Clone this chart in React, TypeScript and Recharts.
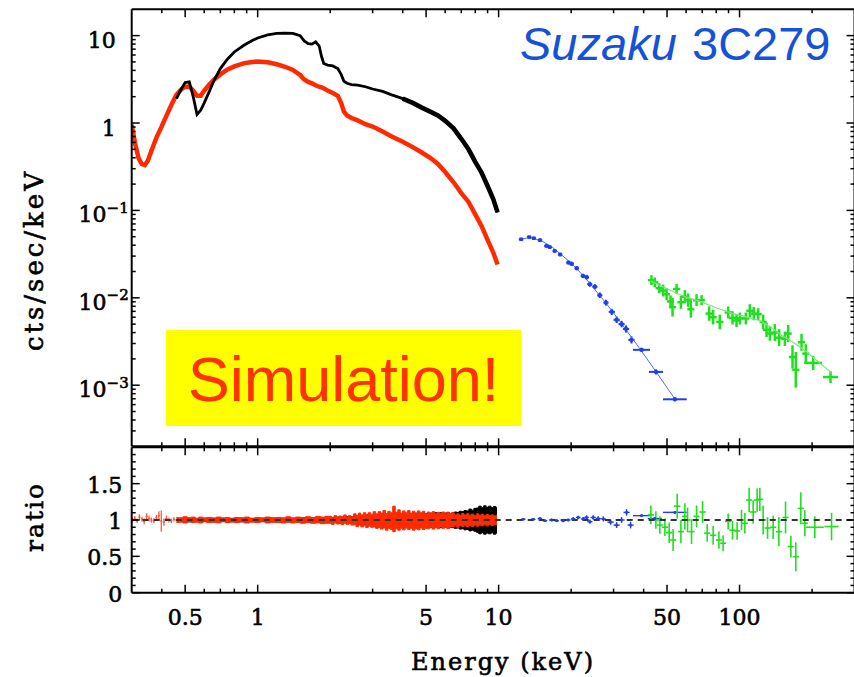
import React from 'react';
import {
  ComposedChart,
  Line,
  Scatter,
  Area,
  XAxis,
  YAxis,
  ErrorBar,
  ReferenceLine,
} from 'recharts';

// ---------------------------------------------------------------------------
// XIS spectra (counts/s/keV) on a common energy grid (keV)
// ---------------------------------------------------------------------------
const xisEnergy = [
  0.30, 0.31, 0.32, 0.33, 0.34, 0.35, 0.36, 0.38, 0.40, 0.42, 0.44, 0.46, 0.48,
  0.50, 0.52, 0.54, 0.56, 0.58, 0.60, 0.63, 0.66, 0.70, 0.75, 0.80, 0.88, 0.95,
  1.0, 1.1, 1.2, 1.3, 1.4, 1.5, 1.56, 1.62, 1.68, 1.74, 1.8, 1.84, 1.88, 1.95,
  2.05, 2.15, 2.22, 2.28, 2.35, 2.45, 2.6, 2.8, 3.0, 3.3, 3.6, 4.0, 4.4, 4.8,
  5.2, 5.6, 6.0, 6.5, 7.0, 7.5, 8.0, 8.5, 9.0, 9.5, 9.9,
];
// front-illuminated XIS (black)
const xisFI = [
  null, null, null, null, null, null, null, null, null, null, null, 1.9, 2.4,
  2.9, 2.95, 2.0, 1.25, 1.4, 1.7, 2.3, 3.1, 4.2, 5.4, 6.5, 7.8, 8.8,
  9.4, 10.2, 10.6, 10.7, 10.6, 10.0, 8.7, 8.1, 8.0, 8.5, 7.6, 5.8, 4.8, 4.6,
  4.5, 4.2, 3.6, 3.0, 2.85, 2.75, 2.72, 2.6, 2.45, 2.3, 2.1, 1.9, 1.7, 1.5,
  1.35, 1.22, 1.06, 0.87, 0.66, 0.5, 0.36, 0.27, 0.19, 0.135, 0.095,
];
// back-illuminated XIS (red)
const xisBI = [
  0.96, 0.58, 0.40, 0.34, 0.33, 0.37, 0.46, 0.68, 0.92, 1.25, 1.65, 2.1, 2.4,
  2.6, 2.62, 2.35, 2.05, 2.05, 2.35, 2.75, 3.15, 3.6, 4.1, 4.45, 4.85, 5.0,
  5.05, 4.95, 4.7, 4.4, 4.05, 3.55, 3.15, 2.95, 2.85, 2.7, 2.6, 2.55, 2.5, 2.35,
  2.2, 2.05, 1.7, 1.35, 1.22, 1.14, 1.07, 0.97, 0.91, 0.80, 0.70, 0.61, 0.53, 0.46,
  0.40, 0.34, 0.275, 0.21, 0.158, 0.125, 0.09, 0.066, 0.046, 0.033, 0.024,
];

// ---------------------------------------------------------------------------
// HXD-PIN (blue)
// ---------------------------------------------------------------------------
const pinEnergy = [
  12.4, 13.4, 14.0, 14.85, 15.8, 16.3, 17.1, 18.0, 19.5, 20.1, 21.1, 22.4, 23.2,
  23.9, 25.1, 26.3, 27.9, 29.5, 30.9, 32.4, 33.8, 35.6, 39.2, 45.0, 53.9,
];
const pinRate = [
  0.0467, 0.0495, 0.048, 0.0457, 0.0392, 0.038, 0.0344, 0.0313, 0.0253, 0.0245,
  0.0218, 0.0178, 0.0172, 0.0143, 0.0134, 0.0107, 0.0088, 0.0069, 0.0056, 0.0050,
  0.0044, 0.0033, 0.00254, 0.00142, 0.00069,
];
// fractional half-widths of the energy bins and of the rate errors
const pinBinHalf = [
  0.022, 0.022, 0.022, 0.022, 0.022, 0.022, 0.022, 0.022, 0.022, 0.022, 0.022,
  0.022, 0.022, 0.025, 0.025, 0.025, 0.025, 0.03, 0.03, 0.03, 0.03, 0.03,
  0.085, 0.07, 0.12,
];
const pinRateErr = [
  0.04, 0.04, 0.04, 0.045, 0.045, 0.05, 0.05, 0.05, 0.055, 0.06, 0.06, 0.06,
  0.065, 0.07, 0.07, 0.075, 0.08, 0.085, 0.09, 0.09, 0.1, 0.1, 0.06, 0.07, 0.06,
];
const pinModelEnergy = [12.4, 13.5, 15, 16.5, 18, 20, 22, 24, 26, 28, 30, 32, 34, 36, 39, 45, 54];
const pinModelRate = [
  0.047, 0.049, 0.045, 0.039, 0.032, 0.025, 0.019, 0.0145, 0.011, 0.0086, 0.0067,
  0.0053, 0.0042, 0.0034, 0.0025, 0.00143, 0.00069,
];

// ---------------------------------------------------------------------------
// HXD-GSO (green)
// ---------------------------------------------------------------------------
const gsoEnergy = [
  43.1, 44.5, 46.4, 48.2, 49.8, 51.7, 52.7, 54.8, 57.1, 59.3, 61.2, 62.8, 66.3,
  69.6, 74.8, 77.7, 82.8, 89.7, 93.5, 97.2, 100.3, 106.2, 110.3, 114.6, 119.5,
  125.3, 129.4, 133.6, 140.1, 146.0, 154.2, 159.1, 165.9, 171.2, 180.8, 188.4,
  202.1, 238.6,
];
const gsoRate = [
  0.0159, 0.0150, 0.0129, 0.0121, 0.0110, 0.0091, 0.0078, 0.0126, 0.0089, 0.0103,
  0.0094, 0.0074, 0.0094, 0.0094, 0.0066, 0.0060, 0.0053, 0.0068, 0.0059, 0.0055,
  0.0058, 0.0058, 0.0071, 0.0066, 0.0065, 0.0053, 0.0043, 0.0039, 0.0040, 0.0035,
  0.0034, 0.0039, 0.0021, 0.0015, 0.0031, 0.0023, 0.0018, 0.00124,
];
const gsoBinHalf = [
  0.035, 0.035, 0.035, 0.035, 0.035, 0.035, 0.035, 0.035, 0.035, 0.035, 0.035,
  0.035, 0.035, 0.035, 0.035, 0.035, 0.035, 0.035, 0.035, 0.035, 0.035, 0.035,
  0.035, 0.035, 0.035, 0.035, 0.035, 0.035, 0.035, 0.035, 0.035, 0.035, 0.035,
  0.035, 0.035, 0.035, 0.09, 0.075,
];
const gsoRateErr = [
  0.14, 0.14, 0.14, 0.17, 0.17, 0.17, 0.28, 0.14, 0.19, 0.19, 0.19, 0.25, 0.17,
  0.14, 0.21, 0.21, 0.21, 0.17, 0.19, 0.19, 0.17, 0.17, 0.19, 0.19, 0.17, 0.21,
  0.21, 0.21, 0.25, 0.25, 0.21, 0.25, 0.36, 0.6, 0.25, 0.28, 0.21, 0.17,
];
const gsoModelEnergy = [43, 50, 56, 62, 68.5, 80, 94, 108, 121, 135, 150, 170, 190, 215, 240];
const gsoModelRate = [
  0.0155, 0.0127, 0.0110, 0.0099, 0.0091, 0.0077, 0.0066, 0.0060, 0.0055, 0.0046,
  0.0037, 0.0030, 0.0024, 0.0018, 0.0014,
];

// ---------------------------------------------------------------------------
// Data / model ratios
// ---------------------------------------------------------------------------
// sparse low-energy XIS-BI bins
const biLowEnergy = [
  0.302, 0.309, 0.316, 0.323, 0.331, 0.338, 0.346, 0.354, 0.362, 0.371, 0.380,
  0.389, 0.398, 0.408, 0.418, 0.428, 0.438, 0.449,
];
const biLowRatio = [
  1.0, 1.02, 0.99, 1.04, 1.01, 0.98, 1.05, 1.02, 1.0, 0.99, 1.03, 1.06, 0.985,
  0.97, 1.02, 1.0, 0.99, 1.01,
];
const biLowErr = [
  0.03, 0.035, 0.03, 0.04, 0.035, 0.04, 0.045, 0.04, 0.035, 0.035, 0.04, 0.06,
  0.145, 0.05, 0.04, 0.035, 0.03, 0.03,
];
const biLowBinHalf = [
  0.011, 0.011, 0.011, 0.011, 0.011, 0.011, 0.011, 0.011, 0.011, 0.011, 0.011,
  0.011, 0.011, 0.011, 0.011, 0.011, 0.011, 0.011,
];

// dense XIS bins: envelope of the error bars (low / high ratio)
const xisRatioEnergy = [
  0.46, 0.48, 0.50, 0.52, 0.54, 0.56, 0.58, 0.60, 0.63, 0.66,
  0.69, 0.72, 0.75, 0.78, 0.82, 0.86, 0.90, 0.95, 1.00, 1.05,
  1.10, 1.16, 1.22, 1.28, 1.34, 1.40, 1.47, 1.54, 1.62, 1.70,
  1.78, 1.86, 1.95,
  2.00, 2.05, 2.10, 2.15, 2.20, 2.25, 2.30, 2.36, 2.41, 2.47,
  2.53, 2.59, 2.65, 2.71, 2.78, 2.84, 2.91, 2.98, 3.05, 3.12,
  3.20, 3.27, 3.35, 3.43, 3.51, 3.59, 3.68, 3.77, 3.86, 3.95,
  4.04, 4.14, 4.24, 4.34, 4.44, 4.55, 4.66, 4.77, 4.88, 5.00,
  5.12, 5.24, 5.36, 5.49, 5.62, 5.75, 5.89, 6.03, 6.17, 6.32,
  6.47, 6.62, 6.78, 6.94, 7.10, 7.27, 7.44, 7.62, 7.80, 7.99,
  8.18, 8.37, 8.57, 8.77, 8.98, 9.19, 9.41, 9.63, 9.85,
];
const biRatioLo = [
  0.965, 0.97, 0.96, 0.975, 0.965, 0.97, 0.96, 0.975, 0.965, 0.97,
  0.962, 0.975, 0.965, 0.97, 0.965, 0.975, 0.96, 0.97, 0.965, 0.975,
  0.96, 0.97, 0.965, 0.96, 0.97, 0.96, 0.965, 0.955, 0.965, 0.955,
  0.96, 0.95, 0.955,
  0.955, 0.94, 0.96, 0.945, 0.95, 0.935, 0.955, 0.94, 0.95, 0.93,
  0.935, 0.91, 0.93, 0.905, 0.92, 0.895, 0.915, 0.90, 0.905, 0.885,
  0.895, 0.875, 0.89, 0.86, 0.885, 0.87, 0.84, 0.88, 0.86, 0.885,
  0.865, 0.89, 0.87, 0.885, 0.86, 0.88, 0.865, 0.89, 0.87, 0.885,
  0.88, 0.90, 0.875, 0.895, 0.88, 0.905, 0.885, 0.90, 0.88, 0.905,
  0.905, 0.92, 0.90, 0.925, 0.91, 0.92, 0.905, 0.925, 0.91, 0.93,
  0.915, 0.93, 0.92, 0.935, 0.92, 0.935, 0.925, 0.94, 0.935,
];
const biRatioHi = [
  1.035, 1.03, 1.045, 1.03, 1.04, 1.025, 1.04, 1.03, 1.035, 1.025,
  1.04, 1.03, 1.035, 1.025, 1.035, 1.03, 1.04, 1.025, 1.035, 1.03,
  1.04, 1.03, 1.035, 1.03, 1.045, 1.03, 1.04, 1.035, 1.045, 1.035,
  1.05, 1.04, 1.05,
  1.05, 1.035, 1.06, 1.04, 1.055, 1.045, 1.07, 1.04, 1.06, 1.05,
  1.085, 1.065, 1.095, 1.07, 1.10, 1.075, 1.10, 1.08, 1.115, 1.085,
  1.115, 1.095, 1.13, 1.09, 1.12, 1.10, 1.19, 1.105, 1.14, 1.095,
  1.125, 1.10, 1.13, 1.095, 1.12, 1.09, 1.125, 1.10, 1.12, 1.085,
  1.11, 1.09, 1.115, 1.085, 1.105, 1.09, 1.11, 1.085, 1.105, 1.09,
  1.10, 1.07, 1.085, 1.065, 1.09, 1.07, 1.085, 1.065, 1.08, 1.06,
  1.085, 1.065, 1.08, 1.06, 1.075, 1.06, 1.07, 1.055, 1.065,
];
const fiRatioLo = [
  null, null, 0.98, 0.975, 0.98, 0.98, 0.975, 0.98, 0.98, 0.975,
  0.98, 0.98, 0.975, 0.98, 0.98, 0.975, 0.98, 0.98, 0.975, 0.98,
  0.98, 0.975, 0.98, 0.98, 0.975, 0.98, 0.98, 0.975, 0.97, 0.975,
  0.97, 0.97, 0.965,
  0.97, 0.965, 0.97, 0.96, 0.965, 0.96, 0.965, 0.955, 0.96, 0.955,
  0.955, 0.95, 0.955, 0.945, 0.95, 0.94, 0.945, 0.94, 0.945, 0.935,
  0.94, 0.93, 0.935, 0.925, 0.93, 0.92, 0.93, 0.92, 0.925, 0.915,
  0.92, 0.91, 0.92, 0.905, 0.915, 0.90, 0.91, 0.90, 0.905, 0.90,
  0.91, 0.90, 0.915, 0.90, 0.905, 0.895, 0.905, 0.90, 0.89, 0.90,
  0.895, 0.885, 0.89, 0.875, 0.88, 0.865, 0.87, 0.85, 0.86, 0.845,
  0.83, 0.81, 0.825, 0.805, 0.82, 0.81, 0.825, 0.805, 0.82,
];
const fiRatioHi = [
  null, null, 1.02, 1.025, 1.02, 1.02, 1.025, 1.02, 1.02, 1.025,
  1.02, 1.02, 1.025, 1.02, 1.02, 1.025, 1.02, 1.02, 1.025, 1.02,
  1.02, 1.025, 1.02, 1.02, 1.025, 1.02, 1.02, 1.025, 1.03, 1.025,
  1.03, 1.03, 1.035,
  1.03, 1.035, 1.03, 1.04, 1.035, 1.04, 1.035, 1.045, 1.04, 1.045,
  1.045, 1.05, 1.045, 1.055, 1.05, 1.06, 1.055, 1.06, 1.055, 1.065,
  1.06, 1.07, 1.065, 1.075, 1.07, 1.08, 1.07, 1.08, 1.075, 1.085,
  1.08, 1.09, 1.08, 1.09, 1.085, 1.095, 1.09, 1.09, 1.095, 1.09,
  1.09, 1.095, 1.085, 1.10, 1.09, 1.10, 1.09, 1.095, 1.105, 1.09,
  1.10, 1.11, 1.105, 1.12, 1.115, 1.13, 1.125, 1.15, 1.135, 1.16,
  1.165, 1.19, 1.17, 1.195, 1.175, 1.19, 1.17, 1.185, 1.17,
];

const pinRatioEnergy = [
  12.65, 13.92, 14.84, 15.56, 16.6, 17.41, 18.54, 19.45, 20.4, 21.4, 22.44, 23.18,
  23.92, 24.69, 25.9, 27.2, 29.16, 30.88, 32.38, 33.97, 35.3, 39.2, 44.5, 53.9,
];
const pinRatio = [
  1.01, 1.01, 1.02, 0.99, 1.0, 0.99, 0.99, 1.0, 1.015, 1.035, 1.015, 1.035, 0.977,
  1.035, 1.02, 1.015, 0.97, 0.93, 1.0, 1.105, 0.93, 1.06, 1.02, 1.105,
];
const pinRatioErr = [
  0.015, 0.015, 0.015, 0.015, 0.02, 0.02, 0.02, 0.02, 0.025, 0.025, 0.025, 0.03,
  0.03, 0.03, 0.03, 0.035, 0.035, 0.04, 0.04, 0.045, 0.045, 0.02, 0.02, 0.02,
];
const pinRatioBinHalf = [
  0.022, 0.022, 0.022, 0.022, 0.022, 0.022, 0.022, 0.022, 0.022, 0.022, 0.022,
  0.022, 0.025, 0.025, 0.025, 0.025, 0.03, 0.03, 0.03, 0.03, 0.03, 0.085, 0.07, 0.12,
];

const gsoRatioEnergy = [
  42.85, 44.95, 46.7, 49.0, 51.05, 53.0, 55.1, 57.1, 59.3, 60.85, 63.2, 66.3, 70.2,
  73.4, 77.7, 82.1, 85.5, 89.7, 93.5, 97.7, 101.9, 105.2, 109.6, 113.9, 118.3,
  121.4, 125.3, 130.7, 137.9, 145.6, 155.2, 163.3, 171.2, 179.6, 186.6, 205.3, 240.9,
];
const gsoRatio = [
  1.07, 1.0, 0.93, 0.9, 0.825, 0.725, 1.19, 0.84, 1.05, 1.0, 0.84, 1.05, 1.11,
  0.82, 0.79, 0.725, 0.68, 0.98, 0.86, 0.85, 1.0, 0.955, 1.275, 1.11, 1.275,
  1.285, 1.0, 0.89, 0.9, 0.84, 1.035, 0.635, 0.495, 1.16, 0.955, 0.9, 0.91,
];
const gsoRatioErr = [
  0.13, 0.12, 0.12, 0.12, 0.14, 0.15, 0.17, 0.16, 0.18, 0.17, 0.17, 0.15, 0.15,
  0.12, 0.13, 0.12, 0.11, 0.11, 0.13, 0.12, 0.14, 0.14, 0.17, 0.16, 0.16, 0.16,
  0.2, 0.15, 0.16, 0.2, 0.22, 0.15, 0.2, 0.22, 0.18, 0.15, 0.19,
];
const gsoRatioBinHalf = [
  0.03, 0.03, 0.03, 0.03, 0.03, 0.03, 0.03, 0.03, 0.03, 0.03, 0.03, 0.03, 0.03,
  0.03, 0.03, 0.03, 0.03, 0.03, 0.03, 0.03, 0.03, 0.03, 0.03, 0.03, 0.03, 0.03,
  0.03, 0.03, 0.03, 0.03, 0.03, 0.03, 0.03, 0.03, 0.03, 0.09, 0.07,
];

// ---------------------------------------------------------------------------
// Axis ticks
// ---------------------------------------------------------------------------
const X_TICKS = [0.4, 0.5, 0.6, 0.7, 0.8, 0.9, 1, 2, 3, 4, 5, 6, 7, 8, 9, 10, 20, 30, 40, 50, 60, 70, 80, 90, 100, 200];
const X_LABELED = [0.5, 1, 5, 10, 50, 100];
const Y_SPEC_TICKS = [
  3e-4, 4e-4, 5e-4, 6e-4, 7e-4, 8e-4, 9e-4,
  1e-3, 2e-3, 3e-3, 4e-3, 5e-3, 6e-3, 7e-3, 8e-3, 9e-3,
  1e-2, 2e-2, 3e-2, 4e-2, 5e-2, 6e-2, 7e-2, 8e-2, 9e-2,
  0.1, 0.2, 0.3, 0.4, 0.5, 0.6, 0.7, 0.8, 0.9,
  1, 2, 3, 4, 5, 6, 7, 8, 9, 10,
];
const Y_RATIO_TICKS = [0, 0.1, 0.2, 0.3, 0.4, 0.5, 0.6, 0.7, 0.8, 0.9, 1, 1.1, 1.2, 1.3, 1.4, 1.5, 1.6, 1.7, 1.8, 1.9];

// ---------------------------------------------------------------------------
// Rows for the chart library
// ---------------------------------------------------------------------------
const binErr = (v: number, f: number) => [(v * f) / (1 + f), v * f];

// the FI curve is drawn heavier above 4 keV, where its error bars widen
const xisRows = xisEnergy.map((e, i) => ({
  e,
  fi: xisFI[i],
  fiTail: e >= 4.0 ? xisFI[i] : null,
  bi: xisBI[i],
}));
const pinRows = pinEnergy.map((e, i) => ({
  e,
  v: pinRate[i],
  ex: binErr(e, pinBinHalf[i]),
  ey: binErr(pinRate[i], pinRateErr[i]),
}));
const pinModelRows = pinModelEnergy.map((e, i) => ({ e, v: pinModelRate[i] }));
const gsoRows = gsoEnergy.map((e, i) => ({
  e,
  v: gsoRate[i],
  ex: binErr(e, gsoBinHalf[i]),
  ey: binErr(gsoRate[i], gsoRateErr[i]),
}));
const gsoModelRows = gsoModelEnergy.map((e, i) => ({ e, v: gsoModelRate[i] }));

const xisRatioRows = xisRatioEnergy.map((e, i) => ({
  e,
  bi: [biRatioLo[i], biRatioHi[i]],
  fi: fiRatioLo[i] == null ? null : [fiRatioLo[i], fiRatioHi[i]],
}));
const biLowRows = biLowEnergy.map((e, i) => ({
  e,
  v: biLowRatio[i],
  ex: binErr(e, biLowBinHalf[i]),
  ey: biLowErr[i],
}));
const pinRatioRows = pinRatioEnergy.map((e, i) => ({
  e,
  v: pinRatio[i],
  ex: binErr(e, pinRatioBinHalf[i]),
  ey: pinRatioErr[i],
}));
const gsoRatioRows = gsoRatioEnergy.map((e, i) => ({
  e,
  v: gsoRatio[i],
  ex: binErr(e, gsoRatioBinHalf[i]),
  ey: gsoRatioErr[i],
}));

// ---------------------------------------------------------------------------
// Layout & style
// ---------------------------------------------------------------------------
const SERIF = '"DejaVu Serif", "Liberation Serif", serif';
const SANS = '"Liberation Sans", Arial, Helvetica, sans-serif';
const CHART_W = 856;
const LEFT_AXIS_W = 120;
const PLOT_LEFT = 131.7;
const PLOT_RIGHT = 854.5;
const SPEC_TOP = 9.3;
const PANEL_SPLIT = 447.3;
const RATIO_BOTTOM = 592.7;
const PAGE_H = 677;

const RED = '#ff2a00';
const BLUE = '#1f3df2';
const GREEN = '#1ee01e';
const AXIS_STROKE = { stroke: '#000', strokeWidth: 2 };
// plotting-package lettering: regular serif with a slight outline for weight
const serifText = {
  fontFamily: SERIF,
  fill: '#000',
  stroke: '#000',
  strokeWidth: 0.6,
};
const tickText = { ...serifText, fontSize: 22 };

const near = (a: number, b: number) => Math.abs(a - b) < 1e-9 * Math.max(1, Math.abs(b));
const isDecade = (v: number) => {
  const l = Math.log10(v);
  return Math.abs(l - Math.round(l)) < 1e-6;
};

// x ticks point into the panel; dir = -1 for a bottom axis, +1 for a top axis
const makeXTick = (dir: number, labels: boolean) => (p: any) => {
  const v = p.payload.value;
  const major = X_LABELED.some((m) => near(m, v));
  const len = major ? 8 : 4;
  return (
    <g>
      <line x1={p.x} x2={p.x} y1={p.y} y2={p.y + dir * len} stroke="#000" strokeWidth={1.5} />
      {labels && major ? (
        <text x={p.x} y={p.y + 32} textAnchor="middle" {...tickText}>
          {String(v)}
        </text>
      ) : null}
    </g>
  );
};

const makeSpecYTick = (dir: number, labels: boolean) => (p: any) => {
  const v = p.payload.value;
  const major = isDecade(v);
  const len = major ? 8 : 4;
  let label = null;
  if (labels && major) {
    const exp = Math.round(Math.log10(v));
    if (exp >= 0) {
      label = (
        <text x={p.x - 16} y={p.y + 12.5} textAnchor="end" {...tickText}>
          {exp === 0 ? '1' : '10'}
        </text>
      );
    } else {
      label = (
        <text x={p.x - 3} y={p.y + 12} textAnchor="end" {...tickText}>
          10
          <tspan dy={-9.5} fontSize={15}>
            {'\u2212' + Math.abs(exp)}
          </tspan>
        </text>
      );
    }
  }
  return (
    <g>
      <line x1={p.x} x2={p.x + dir * len} y1={p.y} y2={p.y} stroke="#000" strokeWidth={1.5} />
      {label}
    </g>
  );
};

const makeRatioYTick = (dir: number, labels: boolean) => (p: any) => {
  const v = p.payload.value;
  const major = Math.abs(v * 2 - Math.round(v * 2)) < 1e-6;
  const len = major ? 8 : 4;
  return (
    <g>
      <line x1={p.x} x2={p.x + dir * len} y1={p.y} y2={p.y} stroke="#000" strokeWidth={1.5} />
      {labels && major ? (
        <text x={p.x - 9.5} y={p.y + 9} textAnchor="end" {...tickText}>
          {String(Number(v.toFixed(1)))}
        </text>
      ) : null}
    </g>
  );
};

const NoMarker = () => <g />;
const makeSquare = (fill: string, size: number) => (p: any) => (
  <rect x={p.cx - size / 2} y={p.cy - size / 2} width={size} height={size} fill={fill} />
);

const commonX = {
  dataKey: 'e',
  type: 'number' as const,
  scale: 'log' as const,
  domain: [0.3, 300],
  allowDataOverflow: true,
  ticks: X_TICKS,
  interval: 0 as const,
  height: 1,
  tickSize: 0,
  tickMargin: 0,
  tickLine: false,
  axisLine: AXIS_STROKE,
};

function SpectrumPanel() {
  const margin = {
    top: SPEC_TOP - 1,
    bottom: 0,
    left: PLOT_LEFT - LEFT_AXIS_W,
    right: CHART_W - PLOT_RIGHT - 1,
  };
  const yCommon = {
    type: 'number' as const,
    scale: 'log' as const,
    domain: [2e-4, 20],
    allowDataOverflow: true,
    ticks: Y_SPEC_TICKS,
    interval: 0 as const,
    tickSize: 0,
    tickMargin: 0,
    tickLine: false,
    axisLine: AXIS_STROKE,
  };
  return (
    <ComposedChart width={CHART_W} height={PANEL_SPLIT} data={xisRows} margin={margin}>
      <XAxis xAxisId="b" {...commonX} tick={makeXTick(-1, false)} />
      <XAxis xAxisId="t" orientation="top" {...commonX} tick={makeXTick(1, false)} />
      <YAxis yAxisId="l" width={LEFT_AXIS_W} {...yCommon} tick={makeSpecYTick(1, true)} />
      <YAxis yAxisId="r" orientation="right" width={1} {...yCommon} tick={makeSpecYTick(-1, false)} />

      <Line
        xAxisId="b"
        yAxisId="l"
        dataKey="bi"
        stroke={RED}
        strokeWidth={4.5}
        dot={false}
        isAnimationActive={false}
      />
      <Line
        xAxisId="b"
        yAxisId="l"
        dataKey="fi"
        stroke="#000"
        strokeWidth={2.8}
        dot={false}
        isAnimationActive={false}
      />
      <Line
        xAxisId="b"
        yAxisId="l"
        dataKey="fiTail"
        stroke="#000"
        strokeWidth={4.6}
        dot={false}
        isAnimationActive={false}
      />

      <Scatter
        xAxisId="b"
        yAxisId="l"
        data={pinModelRows}
        dataKey="v"
        line={{ stroke: '#4d6cf0', strokeWidth: 1 }}
        shape={NoMarker}
        isAnimationActive={false}
      />
      <Scatter
        xAxisId="b"
        yAxisId="l"
        data={pinRows}
        dataKey="v"
        shape={makeSquare(BLUE, 3.5)}
        fill={BLUE}
        isAnimationActive={false}
      >
        <ErrorBar dataKey="ex" direction="x" width={0} stroke={BLUE} strokeWidth={2} />
        <ErrorBar dataKey="ey" direction="y" width={0} stroke={BLUE} strokeWidth={2} />
      </Scatter>

      <Scatter
        xAxisId="b"
        yAxisId="l"
        data={gsoModelRows}
        dataKey="v"
        line={{ stroke: '#7ee67e', strokeWidth: 1.2 }}
        shape={NoMarker}
        isAnimationActive={false}
      />
      <Scatter
        xAxisId="b"
        yAxisId="l"
        data={gsoRows}
        dataKey="v"
        shape={NoMarker}
        fill={GREEN}
        isAnimationActive={false}
      >
        <ErrorBar dataKey="ex" direction="x" width={0} stroke={GREEN} strokeWidth={2.5} />
        <ErrorBar dataKey="ey" direction="y" width={0} stroke={GREEN} strokeWidth={2.5} />
      </Scatter>
    </ComposedChart>
  );
}

function RatioPanel() {
  const margin = {
    top: PANEL_SPLIT - 1,
    bottom: PAGE_H - RATIO_BOTTOM - 1,
    left: PLOT_LEFT - LEFT_AXIS_W,
    right: CHART_W - PLOT_RIGHT - 1,
  };
  const yCommon = {
    type: 'number' as const,
    domain: [0, 2],
    allowDataOverflow: true,
    ticks: Y_RATIO_TICKS,
    interval: 0 as const,
    tickSize: 0,
    tickMargin: 0,
    tickLine: false,
    axisLine: AXIS_STROKE,
  };
  return (
    <ComposedChart width={CHART_W} height={PAGE_H} data={xisRatioRows} margin={margin}>
      <XAxis xAxisId="b" {...commonX} tick={makeXTick(-1, true)} />
      <XAxis xAxisId="t" orientation="top" {...commonX} tick={makeXTick(1, false)} />
      <YAxis yAxisId="l" width={LEFT_AXIS_W} {...yCommon} tick={makeRatioYTick(1, true)} />
      <YAxis yAxisId="r" orientation="right" width={1} {...yCommon} tick={makeRatioYTick(-1, false)} />

      <Area
        xAxisId="b"
        yAxisId="l"
        dataKey="fi"
        type="step"
        stroke="#000"
        strokeWidth={1}
        fill="#000"
        fillOpacity={1}
        dot={false}
        activeDot={false}
        isAnimationActive={false}
      />
      <Area
        xAxisId="b"
        yAxisId="l"
        dataKey="bi"
        type="step"
        stroke={RED}
        strokeWidth={1}
        fill={RED}
        fillOpacity={1}
        dot={false}
        activeDot={false}
        isAnimationActive={false}
      />
      <Scatter
        xAxisId="b"
        yAxisId="l"
        data={biLowRows}
        dataKey="v"
        shape={NoMarker}
        fill={RED}
        isAnimationActive={false}
      >
        <ErrorBar dataKey="ex" direction="x" width={0} stroke="#ff5a3a" strokeWidth={1.3} />
        <ErrorBar dataKey="ey" direction="y" width={0} stroke="#ff5a3a" strokeWidth={1.3} />
      </Scatter>

      <Scatter
        xAxisId="b"
        yAxisId="l"
        data={pinRatioRows}
        dataKey="v"
        shape={makeSquare(BLUE, 2.5)}
        fill={BLUE}
        isAnimationActive={false}
      >
        <ErrorBar dataKey="ex" direction="x" width={0} stroke={BLUE} strokeWidth={1.4} />
        <ErrorBar dataKey="ey" direction="y" width={0} stroke={BLUE} strokeWidth={1.4} />
      </Scatter>
      <Scatter
        xAxisId="b"
        yAxisId="l"
        data={gsoRatioRows}
        dataKey="v"
        shape={NoMarker}
        fill={GREEN}
        isAnimationActive={false}
      >
        <ErrorBar dataKey="ex" direction="x" width={0} stroke={GREEN} strokeWidth={1.6} />
        <ErrorBar dataKey="ey" direction="y" width={0} stroke={GREEN} strokeWidth={1.6} />
      </Scatter>

      <ReferenceLine
        xAxisId="b"
        yAxisId="l"
        y={1}
        stroke="#333"
        strokeWidth={2}
        strokeDasharray="6 5"
      />
    </ComposedChart>
  );
}

export default function App() {
  return (
    <div
      style={{
        position: 'absolute',
        left: 0,
        top: 0,
        width: 854,
        height: PAGE_H,
        overflow: 'hidden',
        background: '#fff',
      }}
    >
      <div style={{ position: 'absolute', left: 0, top: 0 }}>
        <SpectrumPanel />
      </div>
      <div style={{ position: 'absolute', left: 0, top: 0 }}>
        <RatioPanel />
      </div>
      <svg
        width={854}
        height={PAGE_H}
        style={{ position: 'absolute', left: 0, top: 0, pointerEvents: 'none' }}
      >
        <text x={520} y={60} fontFamily={SANS} fontSize={47} fill="#1552d8">
          <tspan fontStyle="italic">Suzaku</tspan>
          <tspan x={692}>3C279</tspan>
        </text>
        <rect x={166} y={330} width={355.5} height={96} fill="#ffff00" />
        <text x={343.5} y={400.7} textAnchor="middle" fontFamily={SANS} fontSize={63} fill="#ff3300">
          Simulation!
        </text>
        <text
          transform="translate(43,260) rotate(-90)"
          textAnchor="middle"
          fontSize={26}
          letterSpacing={3}
          {...serifText}
        >
          cts/sec/keV
        </text>
        <text
          transform="translate(43,517) rotate(-90)"
          textAnchor="middle"
          fontSize={25}
          letterSpacing={2}
          {...serifText}
        >
          ratio
        </text>
        <text x={503} y={670} textAnchor="middle" fontSize={24} letterSpacing={2} {...serifText}>
          Energy (keV)
        </text>
      </svg>
    </div>
  );
}
